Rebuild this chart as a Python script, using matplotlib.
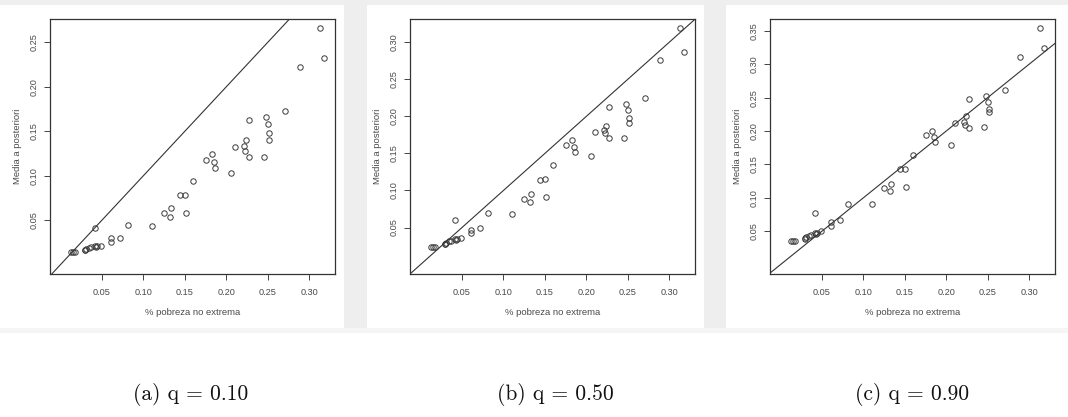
import matplotlib
matplotlib.use("Agg")
import matplotlib.pyplot as plt
from matplotlib.patches import Rectangle
from matplotlib.ticker import FixedLocator, FormatStrFormatter

# Observed share of non-extreme poverty (same for every quantile)
pobreza = [0.3135, 0.3185, 0.2888, 0.2707, 0.2279, 0.2482, 0.2499, 0.2513, 0.2517,
           0.2450, 0.2244, 0.2218, 0.2228, 0.2269, 0.2102, 0.2058, 0.1828, 0.1849,
           0.1860, 0.1750, 0.1593, 0.1443, 0.1507, 0.1510, 0.1254, 0.1330, 0.1318,
           0.1098, 0.0812, 0.0713, 0.0614, 0.0605, 0.0421, 0.0494, 0.0440, 0.0430,
           0.0420, 0.0370, 0.0340, 0.0310, 0.0300, 0.0290, 0.0180, 0.0145, 0.0125]

# Posterior means for q = 0.10, 0.50, 0.90
media_q10 = [0.2657, 0.2329, 0.2222, 0.1728, 0.1632, 0.1657, 0.1582, 0.1475, 0.1407,
             0.1205, 0.1400, 0.1336, 0.1283, 0.1215, 0.1319, 0.1030, 0.1244, 0.1151,
             0.1087, 0.1180, 0.0941, 0.0788, 0.0788, 0.0585, 0.0585, 0.0632, 0.0536,
             0.0432, 0.0450, 0.0304, 0.0294, 0.0258, 0.0407, 0.0212, 0.0205, 0.0200,
             0.0205, 0.0195, 0.0190, 0.0170, 0.0160, 0.0165, 0.0145, 0.0145, 0.0140]
media_q50 = [0.3188, 0.2875, 0.2758, 0.2250, 0.2133, 0.2163, 0.2088, 0.1975, 0.1908,
             0.1708, 0.1875, 0.1813, 0.1771, 0.1708, 0.1788, 0.1471, 0.1688, 0.1588,
             0.1513, 0.1613, 0.1338, 0.1142, 0.1150, 0.0908, 0.0888, 0.0950, 0.0842,
             0.0688, 0.0696, 0.0488, 0.0467, 0.0425, 0.0604, 0.0354, 0.0340, 0.0335,
             0.0345, 0.0320, 0.0315, 0.0290, 0.0280, 0.0275, 0.0238, 0.0238, 0.0238]
media_q90 = [0.3536, 0.3239, 0.3113, 0.2617, 0.2482, 0.2518, 0.2437, 0.2324, 0.2279,
             0.2054, 0.2225, 0.2131, 0.2090, 0.2045, 0.2122, 0.1797, 0.2000, 0.1905,
             0.1838, 0.1941, 0.1635, 0.1437, 0.1437, 0.1167, 0.1153, 0.1212, 0.1095,
             0.0914, 0.0914, 0.0671, 0.0635, 0.0577, 0.0779, 0.0509, 0.0470, 0.0460,
             0.0475, 0.0440, 0.0430, 0.0410, 0.0390, 0.0400, 0.0350, 0.0350, 0.0350]

captions = ["(a) q = 0.10", "(b) q = 0.50", "(c) q = 0.90"]
x_ticks = [0.05, 0.10, 0.15, 0.20, 0.25, 0.30]
y_ticks = [[0.05, 0.10, 0.15, 0.20, 0.25],
           [0.05, 0.10, 0.15, 0.20, 0.25, 0.30],
           [0.05, 0.10, 0.15, 0.20, 0.25, 0.30, 0.35]]
x_label = "% pobreza no extrema"
y_label = "Media a posteriori"

W, H = 1068, 417
fig = plt.figure(figsize=(W / 100, H / 100), dpi=100)
fig.patch.set_facecolor("white")

def px_rect(x0, y0, x1, y1, color):
    fig.patches.append(Rectangle((x0 / W, 1 - y1 / H), (x1 - x0) / W, (y1 - y0) / H,
                                 transform=fig.transFigure, facecolor=color,
                                 edgecolor="none", zorder=0))

# light page shading around the three plot images
px_rect(0, 0, W, 5, "#efefef")
px_rect(344, 0, 367, 330, "#eeeeee")
px_rect(704, 0, 726, 330, "#eeeeee")
px_rect(0, 328, W, 333, "#f5f5f5")

lefts = [50, 410, 770]
top, bottom, width = 19, 274, 285
series = [media_q10, media_q50, media_q90]
cap_x = [191, 555, 912]

text_col = "#4a4a4a"
for i in range(3):
    ax = fig.add_axes([lefts[i] / W, 1 - bottom / H, width / W, (bottom - top) / H])
    ax.set_facecolor("white")
    ax.plot(pobreza, series[i], linestyle="none", marker="o", markersize=3.9,
            markerfacecolor="none", markeredgecolor="#3a3a3a", markeredgewidth=0.7)
    ax.margins(0.04)
    ax.axline((0, 0), slope=1, color="#333333", linewidth=0.8)
    ax.xaxis.set_major_locator(FixedLocator(x_ticks))
    ax.yaxis.set_major_locator(FixedLocator(y_ticks[i]))
    ax.xaxis.set_major_formatter(FormatStrFormatter("%.2f"))
    ax.yaxis.set_major_formatter(FormatStrFormatter("%.2f"))
    ax.tick_params(axis="both", direction="out", length=4, width=0.7,
                   color="#444444", labelsize=6.6, labelcolor=text_col)
    ax.tick_params(axis="x", pad=6)
    ax.tick_params(axis="y", pad=4)
    for lab in ax.get_yticklabels():
        lab.set_rotation(90)
        lab.set_va("center")
    for sp in ax.spines.values():
        sp.set_color("#333333")
        sp.set_linewidth(0.9)
    ax.set_xlabel(x_label, fontsize=6.8, color=text_col, labelpad=8,
                  family="Liberation Sans")
    ax.set_ylabel(y_label, fontsize=6.8, color=text_col, labelpad=6,
                  family="Liberation Sans")
    for lab in ax.get_xticklabels() + ax.get_yticklabels():
        lab.set_family("Liberation Sans")
    fig.text(cap_x[i] / W, 1 - 395 / H, captions[i], ha="center", va="center",
             fontsize=15.5, family="cmr10", color="#111111")

fig.savefig("out.png", dpi=100, facecolor=fig.get_facecolor())
